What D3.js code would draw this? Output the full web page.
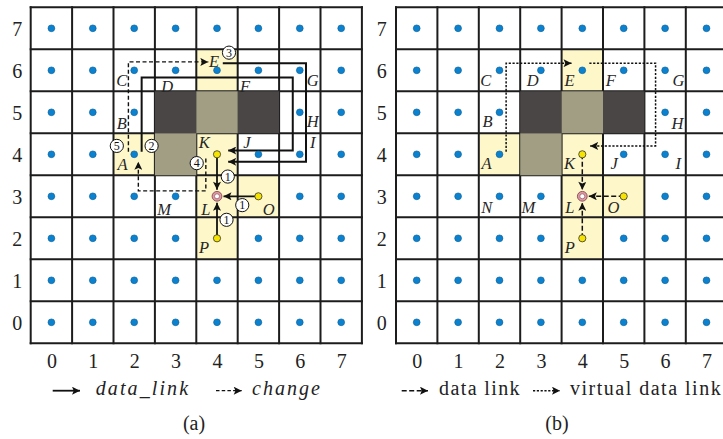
<!DOCTYPE html>
<html>
<head>
<meta charset="utf-8">
<script src="https://cdn.jsdelivr.net/npm/d3@7"></script>
<style>
  html, body { margin: 0; padding: 0; background: #fff; }
  svg { display: block; }
</style>
</head>
<body>
<svg id="chart" width="723" height="439"></svg>
<script>
// ---- grid data --------------------------------------------------------
const xTicks = [0, 1, 2, 3, 4, 5, 6, 7];
const yTicks = [0, 1, 2, 3, 4, 5, 6, 7];

// shaded cells as [column, row]
const yellowCells = [[4, 6], [2, 4], [4, 4], [4, 3], [5, 3], [4, 2]];
const darkCells = [[3, 5], [5, 5]];
const olivCells = [[4, 5], [3, 4]];

// sources (yellow nodes) and the sink node
const sourceNodes = [[4, 4], [5, 3], [4, 2]];
const sinkNode = [4, 3];

// node labels in grid units
const labelsA = [
  ["C", 1.70, 5.77], ["D", 2.80, 5.63], ["E", 3.93, 6.22], ["F", 4.68, 5.63], ["G", 6.31, 5.77],
  ["B", 1.70, 4.74], ["H", 6.31, 4.78], ["I", 6.31, 4.28], ["J", 4.72, 4.28], ["K", 3.69, 4.28],
  ["A", 1.72, 3.77], ["M", 2.72, 2.69], ["L", 3.73, 2.69], ["O", 5.25, 2.69], ["P", 3.69, 1.80]
];
const labelsB = [
  ["C", 1.67, 5.77], ["D", 2.80, 5.77], ["E", 3.69, 5.77], ["F", 4.69, 5.77], ["G", 6.32, 5.77],
  ["B", 1.71, 4.78], ["H", 6.30, 4.75], ["A", 1.69, 3.79], ["K", 3.69, 3.79], ["J", 4.77, 3.79],
  ["I", 6.32, 3.79], ["N", 1.69, 2.75], ["M", 2.70, 2.75], ["L", 3.70, 2.75], ["O", 4.75, 2.75],
  ["P", 3.70, 1.80]
];

// routed paths in grid units
const dataLinkPathsA = [
  [[4.14, 6.17], [6.15, 6.17], [6.15, 3.82], [4.27, 3.82]],
  [[2.18, 4.06], [2.18, 5.83], [5.83, 5.83], [5.83, 4.09], [4.27, 4.09]]
];
const changePathsA = [
  [[3.73, 3.90], [3.73, 3.13], [2.10, 3.13], [2.10, 3.82]],
  [[1.86, 4.06], [1.86, 6.20], [3.79, 6.20]]
];
const virtualPathsB = [
  [[2.16, 4.06], [2.16, 6.17], [3.74, 6.17]],
  [[4.17, 6.17], [5.77, 6.17], [5.77, 4.20], [4.19, 4.20]]
];

// step badges: [number, column, row]
const badgesA = [
  ["1", 4.26, 3.47], ["1", 4.61, 2.79], ["1", 4.23, 2.44],
  ["2", 2.42, 4.20], ["3", 4.29, 6.42], ["4", 3.51, 3.79], ["5", 1.58, 4.20]
];

const legendA = ["data_link", "change"];
const legendB = ["data link", "virtual data link"];
const captions = ["(a)", "(b)"];

// ---- drawing ----------------------------------------------------------
const svg = d3.select("#chart");
const SERIF = "Liberation Serif, Times New Roman, serif";

const defs = svg.append("defs");
defs.append("marker")
  .attr("id", "head")
  .attr("viewBox", "0 0 10 10")
  .attr("refX", 10).attr("refY", 5)
  .attr("markerUnits", "userSpaceOnUse")
  .attr("markerWidth", 9).attr("markerHeight", 8)
  .attr("orient", "auto")
  .append("path")
  .attr("d", "M0,0 L10,5 L0,10 L2.2,5 Z")
  .attr("fill", "#111").attr("stroke", "none");

const key = d => d[0] + "," + d[1];
const blocked = new Set([...darkCells, ...olivCells, ...sourceNodes, sinkNode].map(key));
const cells = [];
xTicks.forEach(c => yTicks.forEach(r => cells.push([c, r])));

function drawPanel(cfg) {
  const x = d3.scaleLinear().domain([-0.5, 7.5]).range([cfg.left, cfg.left + 331.2]);
  const y = d3.scaleLinear().domain([-0.5, 7.5]).range([343.3, 7.3]);
  const cw = x(1) - x(0), ch = y(0) - y(1);
  const g = svg.append("g").style("font-family", SERIF);

  // yellow cells sit below the grid lines
  g.selectAll("rect.yel").data(yellowCells).join("rect")
    .attr("x", d => x(d[0] - 0.5)).attr("y", d => y(d[1] + 0.5))
    .attr("width", cw).attr("height", ch)
    .attr("fill", "#fdf7c9");

  const lines = d3.range(-0.5, 8, 1);
  g.selectAll("line.v").data(lines).join("line")
    .attr("x1", d => x(d)).attr("x2", d => x(d))
    .attr("y1", y(-0.5) + 1).attr("y2", y(7.5) - 1)
    .attr("stroke", "#1c1c1c").attr("stroke-width", 2);
  g.selectAll("line.h").data(lines).join("line")
    .attr("y1", d => y(d)).attr("y2", d => y(d))
    .attr("x1", x(-0.5) - 1).attr("x2", x(7.5) + 1)
    .attr("stroke", "#1c1c1c").attr("stroke-width", 2);

  // obstacle cells cover the lines between them
  const obs = [...darkCells.map(d => [d, "#4a4645"]), ...olivCells.map(d => [d, "#a29e83"])];
  g.selectAll("rect.obs").data(obs).join("rect")
    .attr("x", d => x(d[0][0] - 0.5)).attr("y", d => y(d[0][1] + 0.5))
    .attr("width", cw).attr("height", ch)
    .attr("fill", d => d[1]);

  // axes
  const ax = g.append("g").attr("transform", `translate(0,${y(-0.5)})`)
    .call(d3.axisBottom(x).tickValues(xTicks).tickSize(0));
  ax.attr("font-family", null).attr("font-size", null);
  ax.select(".domain").remove();
  ax.selectAll("text").attr("y", 18.4).attr("dy", "0.34em")
    .style("font-family", SERIF).style("font-size", "20px").attr("fill", "#222");
  const ay = g.append("g").attr("transform", `translate(${x(-0.5)},0)`)
    .call(d3.axisLeft(y).tickValues(yTicks).tickSize(0).tickPadding(cfg.yPad));
  ay.attr("font-family", null).attr("font-size", null);
  ay.select(".domain").remove();
  ay.selectAll("text").attr("dy", "0.34em")
    .style("font-family", SERIF).style("font-size", "20px").attr("fill", "#222");

  // labels
  g.selectAll("text.lab").data(cfg.labels).join("text")
    .attr("x", d => x(d[1])).attr("y", d => y(d[2]))
    .attr("dy", "0.36em").attr("text-anchor", "middle")
    .style("font-style", "italic").style("font-size", "16.5px")
    .attr("fill", "#262626").text(d => d[0]);

  const line = d3.line().x(d => x(d[0])).y(d => y(d[1]));

  // routed paths
  cfg.paths.forEach(p => {
    g.selectAll(null).data(p.data).join("path")
      .attr("d", line).attr("fill", "none")
      .attr("stroke", "#111").attr("stroke-width", p.width)
      .attr("stroke-dasharray", p.dash)
      .attr("marker-end", "url(#head)");
  });

  // source -> sink links
  const sx = x(sinkNode[0]), sy = y(sinkNode[1]);
  g.selectAll("line.lk").data(sourceNodes).join("line")
    .attr("x1", d => x(d[0])).attr("y1", d => y(d[1]))
    .attr("x2", d => { const dx = x(d[0]) - sx; return sx + Math.sign(dx) * 6.5; })
    .attr("y2", d => { const dy = y(d[1]) - sy; return sy + Math.sign(dy) * 6.5; })
    .attr("stroke", "#111").attr("stroke-width", cfg.linkWidth)
    .attr("stroke-dasharray", cfg.linkDash)
    .attr("marker-end", "url(#head)");

  // dots
  g.selectAll("circle.dot").data(cells.filter(c => !blocked.has(key(c)))).join("circle")
    .attr("cx", d => x(d[0])).attr("cy", d => y(d[1])).attr("r", 3.4)
    .attr("fill", "#0b82cf").attr("stroke", "#0a5d94").attr("stroke-width", 0.6);
  g.selectAll("circle.src").data(sourceNodes).join("circle")
    .attr("cx", d => x(d[0])).attr("cy", d => y(d[1])).attr("r", 3.6)
    .attr("fill", "#f6e400").attr("stroke", "#333").attr("stroke-width", 0.8);
  g.append("circle").attr("cx", sx).attr("cy", sy).attr("r", 4.9)
    .attr("fill", "#e09aa6").attr("stroke", "#7a3c48").attr("stroke-width", 0.8);
  g.append("circle").attr("cx", sx).attr("cy", sy).attr("r", 2.5)
    .attr("fill", "#fff").attr("stroke", "#7a3c48").attr("stroke-width", 0.6);

  // step badges
  const bd = g.selectAll("g.badge").data(cfg.badges).join("g")
    .attr("transform", d => `translate(${x(d[1])},${y(d[2])})`);
  bd.append("circle").attr("r", 6.6).attr("fill", "#fff")
    .attr("stroke", "#111").attr("stroke-width", 1);
  bd.append("text").attr("text-anchor", "middle").attr("dy", "0.35em")
    .style("font-size", "12px").attr("fill", "#111")
    .text(d => d[0]);

  // legend
  const ly = 390.7;
  cfg.legend.forEach(it => {
    g.append("line")
      .attr("x1", it.a0).attr("x2", it.a1).attr("y1", ly).attr("y2", ly)
      .attr("stroke", "#111").attr("stroke-width", it.width)
      .attr("stroke-dasharray", it.dash).attr("marker-end", "url(#head)");
    g.append("text").attr("x", it.tx).attr("y", 394.5)
      .style("font-size", "20px")
      .style("font-style", it.italic ? "italic" : "normal")
      .style("letter-spacing", it.ls + "px").attr("fill", "#222")
      .text(it.text);
  });

  g.append("text").attr("x", cfg.capX).attr("y", 429.5)
    .attr("text-anchor", "middle").style("font-size", "20px")
    .attr("fill", "#222").text(cfg.caption);
}

drawPanel({
  left: 30.7, yPad: 8.5,
  labels: labelsA,
  paths: [
    { data: dataLinkPathsA, width: 2, dash: null },
    { data: changePathsA, width: 1.4, dash: "4,2.5" }
  ],
  linkWidth: 1.8, linkDash: null,
  badges: badgesA,
  legend: [
    { a0: 52.7, a1: 80, width: 1.8, dash: null, tx: 95.7, text: legendA[0], italic: true, ls: 2.1 },
    { a0: 216, a1: 241.7, width: 1.3, dash: "3.5,2.2", tx: 252, text: legendA[1], italic: true, ls: 2 }
  ],
  capX: 194, caption: captions[0]
});

drawPanel({
  left: 396, yPad: 9.3,
  labels: labelsB,
  paths: [
    { data: virtualPathsB, width: 1.5, dash: "2.2,1.6" }
  ],
  linkWidth: 1.5, linkDash: "5,2.5",
  badges: [],
  legend: [
    { a0: 401.7, a1: 428, width: 1.4, dash: "5,2.5", tx: 439, text: legendB[0], italic: false, ls: 1.4 },
    { a0: 533, a1: 560, width: 1.4, dash: "2.2,1.6", tx: 570, text: legendB[1], italic: false, ls: 1.5 }
  ],
  capX: 557, caption: captions[1]
});
</script>
</body>
</html>
